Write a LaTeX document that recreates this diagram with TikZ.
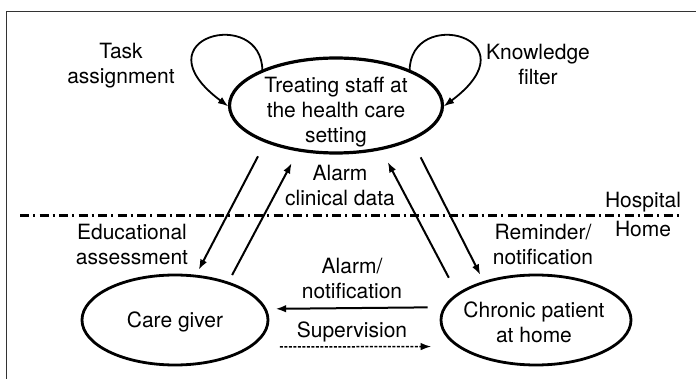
\documentclass[tikz,border=0pt]{standalone}
\usepackage{fontspec}
\setmainfont{TeX Gyre Heros}
\usepackage{tikz}
\usetikzlibrary{arrows.meta, shapes.geometric, positioning, calc}

\begin{document}
\begin{tikzpicture}[x=1pt, y=-1pt, font=\fontsize{21}{25}\selectfont, >={Latex[length=10.5pt,width=7.5pt]},
  st/.style={draw, ellipse, line width=2.8pt, outer sep=0pt, inner sep=0pt},
  lbl/.style={align=center, inner sep=0pt},
  flow/.style={->, line width=2pt},
  selfloop/.style={->, line width=1.8pt, shorten >=1.5pt}]
  \useasboundingbox (0,0) rectangle (696,379);
  \draw[line width=1.3pt, black!80] (696,11.5) -- (6.7,11.5) -- (6.7,379);
  % hospital / home border
  \coordinate (sepL) at (20,216);
  \coordinate (sepR) at (680,216);
  \draw[line width=3pt, dash pattern=on 9pt off 4pt on 2pt off 4.5pt] (sepL) -- (sepR);
  \node[lbl] (hosp) at (643,201.7) {Hospital};
  \node[lbl] (home) at (643,229.5) {Home};
  % actors
  \node[st, line width=3.2pt, minimum width=213pt, minimum height=95pt] (staff) at (336,105.5) {};
  \node[lbl] (stafftxt) at (336,112.5) {Treating staff at\\the health care\\setting};
  \node[st, minimum width=186pt, minimum height=90pt] (care) at (175,320) {};
  \node[lbl] (caretxt) at (175,321.7) {Care giver};
  \node[st, minimum width=190pt, minimum height=90pt] (patient) at (536,320) {};
  \node[lbl] (patienttxt) at (534,322.5) {Chronic patient\\at home};
  % flow labels
  \node[lbl] (task) at (121,66) {Task\\assignment};
  \node[lbl] (know) at (538,64.9) {Knowledge\\filter};
  \node[lbl] (alarmdata) at (340,186) {Alarm\\clinical data};
  \node[lbl] (edu) at (132,245) {Educational\\assessment};
  \node[lbl] (remind) at (543,245) {Reminder/\\notification};
  \node[lbl] (alarmnot) at (352,278.5) {Alarm/\\notification};
  \node[lbl] (superv) at (352,331.7) {Supervision};
  % flows
  \draw[selfloop] (staff.155) .. controls +(0,-66) and +(-94,-70) .. (staff.181);
  \draw[selfloop] (staff.25) .. controls +(0,-66) and +(94,-70) .. (staff.359);
  \draw[flow, shorten <=17pt, shorten >=7pt] (staff.207.8) -- (care.65.8);
  \draw[flow, shorten <=9pt, shorten >=14.7pt] (care.35.1) -- (staff.230.3);
  \draw[flow, shorten <=19pt, shorten >=15pt] (patient.162.5) -- (staff.316.3);
  \draw[flow, shorten <=20.5pt, shorten >=8.3pt] (staff.336.8) -- (patient.144.3);
  \draw[flow, shorten <=17.4pt, shorten >=10.4pt] (patient.172.5) -- (care.7.6);
  \draw[flow, line width=1.5pt, dash pattern=on 3pt off 1.5pt, shorten <=30.6pt, shorten >=28pt] (care.340.1) -- (patient.199.6);
\end{tikzpicture}
\end{document}
